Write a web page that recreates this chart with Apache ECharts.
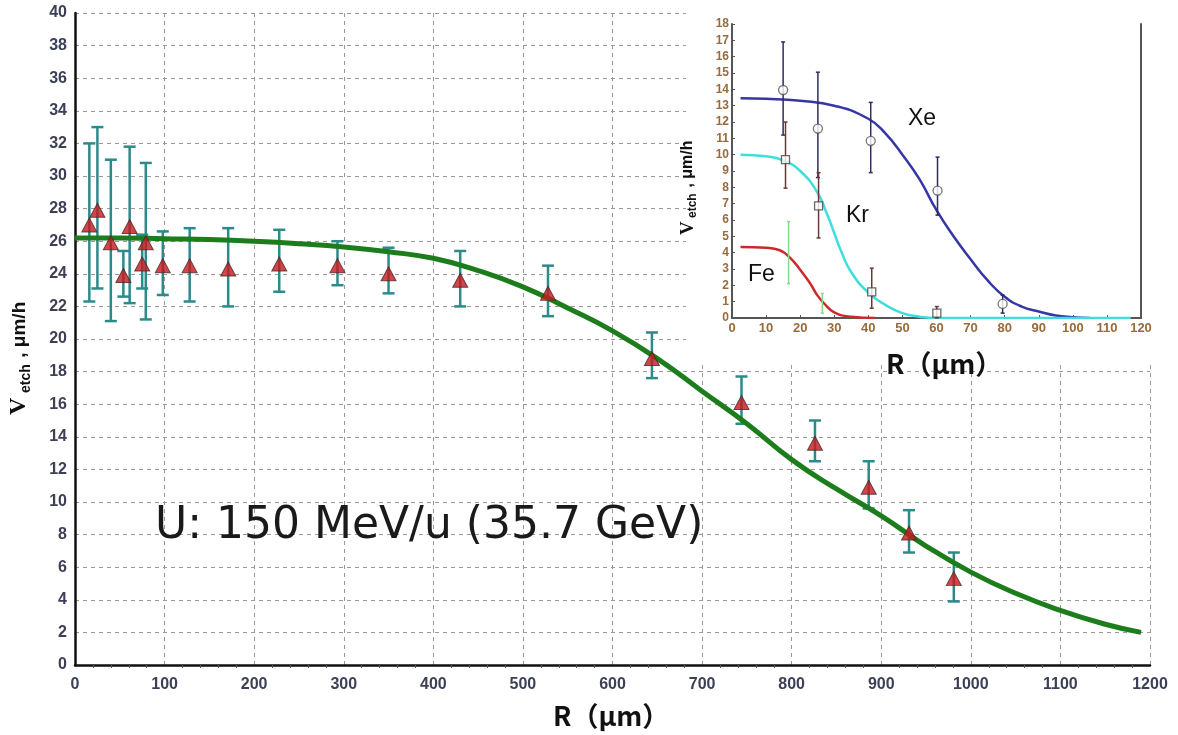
<!DOCTYPE html>
<html><head><meta charset="utf-8">
<script src="https://cdn.jsdelivr.net/npm/echarts@6/dist/echarts.min.js"></script>
<style>html,body{margin:0;padding:0;background:#fff}#c{width:1178px;height:735px}</style>
</head><body><div id="c"></div>
<script>
// ---- main chart (U ions) ----
const mainR  = [16, 25, 40, 54, 61, 75, 79, 98, 128, 171, 228, 293, 350, 430, 528, 644, 744, 826, 886, 931, 981];
const mainV  = [27.0, 27.9, 25.9, 23.9, 26.9, 24.6, 25.9, 24.5, 24.5, 24.3, 24.6, 24.5, 24.0, 23.6, 22.8, 18.8, 16.1, 13.6, 10.9, 8.1, 5.3];
const mainHi = [32.0, 33.0, 31.0, 25.4, 31.8, 26.4, 30.8, 26.6, 26.8, 26.8, 26.7, 26.0, 25.6, 25.4, 24.5, 20.4, 17.7, 15.0, 12.5, 9.5, 6.9];
const mainLo = [22.3, 23.1, 21.1, 22.6, 22.2, 23.1, 21.2, 22.7, 22.3, 22.0, 22.9, 23.3, 22.8, 22.0, 21.4, 17.6, 14.8, 12.5, 9.6, 6.9, 3.9];
const fitR = [0, 50, 100, 150, 200, 250, 300, 350, 400, 450, 500, 550, 600, 650, 700, 750, 800, 850, 900, 950, 1000, 1050, 1100, 1150, 1190];
const fitV = [26.2, 26.2, 26.15, 26.1, 26.0, 25.85, 25.65, 25.35, 24.95, 24.2, 23.2, 21.9, 20.5, 18.8, 16.8, 14.8, 12.6, 10.8, 9.15, 7.3, 5.7, 4.4, 3.35, 2.5, 2.0];
const mainXTicks = {min: 0, max: 1200, interval: 100};
const mainYTicks = {min: 0, max: 40, interval: 2};

// ---- inset (Xe, Kr, Fe) ----
const xeR  = [15.0, 25.2, 40.7, 60.3, 79.4];
const xeV  = [13.96, 11.6, 10.85, 7.8, 0.86];
const xeHi = [16.9, 15.05, 13.2, 9.85, 1.4];
const xeLo = [11.2, 8.6, 8.9, 6.3, 0.3];
const krR  = [15.7, 25.4, 41.0, 60.1];
const krV  = [9.7, 6.86, 1.6, 0.3];
const krHi = [12.0, 8.9, 3.05, 0.7];
const krLo = [7.95, 4.9, 0.6, 0.0];
const feR  = [16.6, 26.5];
const feHi = [5.9, 1.5];
const feLo = [2.1, 0.3];
const xeFitR = [2.5, 10, 20, 30, 40, 45, 50, 55, 60, 65, 70, 75, 80, 85, 90, 95, 100, 105];
const xeFitV = [13.45, 13.42, 13.3, 13.0, 12.2, 11.3, 10.0, 8.5, 6.6, 5.0, 3.6, 2.3, 1.3, 0.7, 0.4, 0.15, 0.05, 0];
const krFitR = [2.5, 10, 15, 20, 25, 28, 30, 32, 35, 40, 45, 50, 55, 60, 117];
const krFitV = [10.0, 9.9, 9.65, 9.0, 7.7, 6.3, 5.2, 4.1, 2.8, 1.55, 0.8, 0.3, 0.08, 0, 0];
const feFitR = [2.5, 10, 14, 17, 20, 23, 25, 27, 30, 35, 42];
const feFitV = [4.35, 4.3, 4.15, 3.7, 2.95, 2.1, 1.4, 0.9, 0.35, 0.08, 0];
const insetXTicks = {min: 0, max: 120, interval: 10};
const insetYTicks = {min: 0, max: 18, interval: 1};

const zip2 = (a, b) => a.map((v, i) => [v, b[i]]);
const zip3 = (a, lo, hi) => a.map((v, i) => [v, lo[i], hi[i]]);
const plain = v => String(v);

function errRender(color, cap, width) {
  return function (params, api) {
    const x = api.value(0), lo = api.value(1), hi = api.value(2);
    const p1 = api.coord([x, hi]), p2 = api.coord([x, lo]);
    const st = {stroke: color, lineWidth: width};
    const ch = [{type: 'line', shape: {x1: p1[0], y1: p1[1], x2: p2[0], y2: p2[1]}, style: st}];
    if (cap > 0) {
      ch.push({type: 'line', shape: {x1: p1[0] - cap, y1: p1[1], x2: p1[0] + cap, y2: p1[1]}, style: st});
      ch.push({type: 'line', shape: {x1: p2[0] - cap, y1: p2[1], x2: p2[0] + cap, y2: p2[1]}, style: st});
    }
    return {type: 'group', children: ch};
  };
}

const chart = echarts.init(document.getElementById('c'), null, {renderer: 'canvas'});
const dashed = {show: true, lineStyle: {color: '#9a9a9a', type: [4, 4], width: 1}};
const mainLabel = {fontSize: 16, fontWeight: 'bold', color: '#3c3f55', fontFamily: 'Liberation Sans', formatter: plain};
const insetLabelX = {fontSize: 13, fontWeight: 'bold', color: '#9a6a3a', fontFamily: 'Liberation Sans', margin: 4, formatter: plain};
const insetLabelY = {fontSize: 12, fontWeight: 'bold', color: '#9a6a3a', fontFamily: 'Liberation Sans Narrow, Liberation Sans', margin: 3, formatter: plain};

function txt(t, x, y, font, extra) {
  return Object.assign({type: 'text', x: x, y: y, z: 30,
    style: {text: t, font: font, fill: '#111', textAlign: 'left', align: 'left', textVerticalAlign: 'middle', verticalAlign: 'middle'}}, extra || {});
}

const option = {
  animation: false,
  backgroundColor: '#fff',
  grid: [
    {left: 75, top: 13, right: 28, bottom: 70},
    {left: 732, top: 24, right: 37, bottom: 417}
  ],
  xAxis: [
    Object.assign({type: 'value', gridIndex: 0,
      axisLine: {lineStyle: {color: '#111', width: 2.5}},
      axisTick: {show: false},
      minorTick: {show: true, splitNumber: 5, length: 3, lineStyle: {color: '#555'}},
      axisLabel: Object.assign({margin: 12}, mainLabel),
      splitLine: dashed}, mainXTicks),
    Object.assign({type: 'value', gridIndex: 1, z: 10,
      axisLine: {lineStyle: {color: '#555', width: 2}},
      axisTick: {show: true, inside: true, length: 3, lineStyle: {color: '#555'}},
      axisLabel: insetLabelX,
      splitLine: {show: false}}, insetXTicks)
  ],
  yAxis: [
    Object.assign({type: 'value', gridIndex: 0,
      axisLine: {show: true, lineStyle: {color: '#111', width: 2.5}},
      axisTick: {show: false},
      axisLabel: Object.assign({margin: 8}, mainLabel),
      splitLine: dashed}, mainYTicks),
    Object.assign({type: 'value', gridIndex: 1, z: 10,
      axisLine: {show: true, lineStyle: {color: '#555', width: 2}},
      axisTick: {show: true, inside: true, length: 3, lineStyle: {color: '#555'}},
      axisLabel: insetLabelY,
      splitLine: {show: false}}, insetYTicks),
    Object.assign({type: 'value', gridIndex: 1, z: 10, position: 'right',
      axisLine: {show: true, lineStyle: {color: '#555', width: 2}},
      axisTick: {show: false}, axisLabel: {show: false},
      splitLine: {show: false}}, insetYTicks)
  ],
  graphic: [
    {type: 'rect', z: 5, shape: {x: 686, y: 0, width: 492, height: 362}, style: {fill: '#fff'}},
    // main y axis title
    {type: 'group', x: 22, y: 343, rotation: Math.PI / 2, z: 30, children: [
      txt('V', -72, -3, 'bold 24px "Liberation Serif"'),
      txt('etch', -50, 4, 'bold 14px "Liberation Sans"'),
      txt(' , \u03bcm/h', -20, -2, 'bold 19px "Liberation Sans"')
    ]},
    // inset y axis title
    {type: 'group', x: 689, y: 178, rotation: Math.PI / 2, z: 30, children: [
      txt('V', -57, -1, 'bold 19px "Liberation Serif"'),
      txt('etch', -40, 4, 'bold 12px "Liberation Sans"'),
      txt(' , \u03bcm/h', -14, -1, 'bold 16px "Liberation Sans"')
    ]},
    txt('R\uff08\u03bcm\uff09', 553, 716, 'bold 27px "Noto Sans CJK JP"'),
    txt('R\uff08\u03bcm\uff09', 886, 364, 'bold 27px "Noto Sans CJK JP"'),
    txt('U: 150 MeV/u (35.7 GeV)', 155, 527, '44px "DejaVu Sans"', {style: {text: 'U: 150 MeV/u (35.7 GeV)', font: '44px "DejaVu Sans"', fill: '#1a1a1a', textAlign: 'left', align: 'left', textVerticalAlign: 'middle', verticalAlign: 'middle'}}),
    txt('Xe', 908, 119, '23px "Liberation Sans"', {z: 30}),
    txt('Kr', 846, 216, '23px "Liberation Sans"', {z: 30}),
    txt('Fe', 748, 275, '23px "Liberation Sans"', {z: 30})
  ],
  series: [
    {type: 'custom', name: 'U err', xAxisIndex: 0, yAxisIndex: 0, z: 2,
      renderItem: errRender('#2b8a8a', 6, 2.5), encode: {x: 0, y: [1, 2]},
      data: zip3(mainR, mainLo, mainHi)},
    {type: 'line', name: 'U fit', xAxisIndex: 0, yAxisIndex: 0, z: 3, smooth: true, showSymbol: false, symbol: 'none',
      lineStyle: {color: '#1d7d1d', width: 5}, data: zip2(fitR, fitV)},
    {type: 'scatter', name: 'U', xAxisIndex: 0, yAxisIndex: 0, z: 4, symbol: 'triangle', symbolSize: [15, 14],
      itemStyle: {color: '#c8161b', borderColor: '#4a2a2a', borderWidth: 1}, data: zip2(mainR, mainV)},

    {type: 'line', name: 'Xe fit', xAxisIndex: 1, yAxisIndex: 1, z: 12, smooth: true, symbol: 'none',
      lineStyle: {color: '#3636a6', width: 2.5}, data: zip2(xeFitR, xeFitV)},
    {type: 'line', name: 'Kr fit', xAxisIndex: 1, yAxisIndex: 1, z: 12, smooth: true, symbol: 'none',
      lineStyle: {color: '#3fdede', width: 2.5}, data: zip2(krFitR, krFitV)},
    {type: 'line', name: 'Fe fit', xAxisIndex: 1, yAxisIndex: 1, z: 12, smooth: true, symbol: 'none',
      lineStyle: {color: '#cc2a2a', width: 2.5}, data: zip2(feFitR, feFitV)},
    {type: 'custom', name: 'Xe err', xAxisIndex: 1, yAxisIndex: 1, z: 13,
      renderItem: errRender('#2e2e5e', 2, 1.5), encode: {x: 0, y: [1, 2]}, data: zip3(xeR, xeLo, xeHi)},
    {type: 'custom', name: 'Kr err', xAxisIndex: 1, yAxisIndex: 1, z: 13,
      renderItem: errRender('#6b3838', 2, 1.5), encode: {x: 0, y: [1, 2]}, data: zip3(krR, krLo, krHi)},
    {type: 'custom', name: 'Fe err', xAxisIndex: 1, yAxisIndex: 1, z: 13,
      renderItem: errRender('#88d888', 1.5, 1.5), encode: {x: 0, y: [1, 2]}, data: zip3(feR, feLo, feHi)},
    {type: 'scatter', name: 'Xe', xAxisIndex: 1, yAxisIndex: 1, z: 14, symbol: 'circle', symbolSize: 9,
      itemStyle: {color: '#fff', borderColor: '#555', borderWidth: 1.3}, data: zip2(xeR, xeV)},
    {type: 'scatter', name: 'Kr', xAxisIndex: 1, yAxisIndex: 1, z: 14, symbol: 'rect', symbolSize: 8,
      itemStyle: {color: '#fff', borderColor: '#444', borderWidth: 1.3}, data: zip2(krR, krV)}
  ]
};
chart.setOption(option);
</script></body></html>
